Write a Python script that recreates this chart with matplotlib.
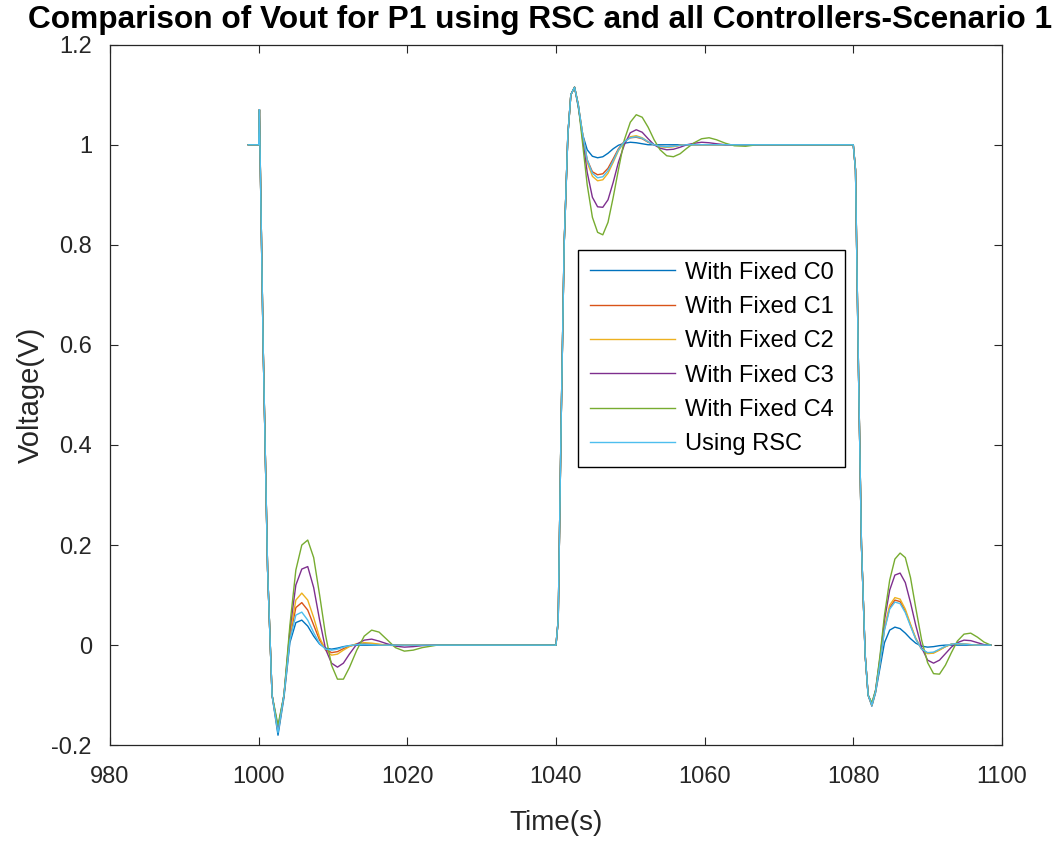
import matplotlib
matplotlib.use("Agg")
import matplotlib.pyplot as plt

# time grid (three segments: fall at 1000, rise at 1040, fall at 1080)
t_a = [998.6, 1000.0, 1000.1, 1000.6, 1001.2, 1001.8, 1002.6, 1003.4, 1004.2, 1005.0,
       1005.8, 1006.6, 1007.4, 1008.2, 1009.0, 1009.8, 1010.6, 1011.4, 1012.2, 1013.2,
       1014.2, 1015.2, 1016.2, 1017.2, 1018.4, 1019.6, 1020.8, 1022.0, 1024.0, 1026.0,
       1030.0, 1040.0]
t_b = [1040.3, 1040.7, 1041.1, 1041.6, 1042.0, 1042.5, 1043.0, 1043.6, 1044.2, 1044.9,
       1045.6, 1046.3, 1047.0, 1047.7, 1048.4, 1049.2, 1050.0, 1050.8, 1051.6, 1052.4,
       1053.2, 1054.0, 1054.9, 1055.8, 1056.7, 1057.6, 1058.6, 1059.6, 1060.6, 1061.6,
       1062.8, 1064.0, 1065.5, 1067.0, 1070.0, 1080.0]
t_c = [1080.3, 1080.7, 1081.1, 1081.6, 1082.0, 1082.5, 1083.0, 1083.6, 1084.2, 1084.9,
       1085.6, 1086.3, 1087.0, 1087.7, 1088.4, 1089.2, 1090.0, 1090.8, 1091.6, 1092.4,
       1093.2, 1094.0, 1094.9, 1095.8, 1096.7, 1097.6, 1098.5]

c0_a = [1.0, 1.0, 1.07, 0.6, 0.15, -0.1, -0.18, -0.105, 0.005, 0.045,
        0.05, 0.038, 0.018, 0.002, -0.006, -0.008, -0.006, -0.003, -0.001, 0.0,
        0.0, 0.0, 0.0, 0.0, 0.0, 0.0, 0.0, 0.0, 0.0, 0.0, 0.0, 0.0]
c0_b = [0.05, 0.45, 0.8, 1.02, 1.1, 1.115, 1.075, 1.02, 0.99, 0.977,
        0.974, 0.976, 0.983, 0.992, 0.999, 1.003, 1.005, 1.004, 1.002, 1.0,
        1.0, 1.0, 1.0, 1.0, 1.0, 1.0, 1.0, 1.0, 1.0, 1.0,
        1.0, 1.0, 1.0, 1.0, 1.0, 1.0]
c0_c = [0.95, 0.55, 0.2, -0.02, -0.1, -0.122, -0.095, -0.045, 0.005, 0.03,
        0.036, 0.033, 0.024, 0.013, 0.004, -0.002, -0.004, -0.003, -0.001, 0.0,
        0.0, 0.0, 0.0, 0.0, 0.0, 0.0, 0.0]

c1_a = [1.0, 1.0, 1.07, 0.6, 0.15, -0.1, -0.172, -0.1, 0.015, 0.075,
        0.085, 0.07, 0.04, 0.01, -0.008, -0.015, -0.013, -0.007, -0.002, 0.002,
        0.003, 0.002, 0.001, 0.0, 0.0, 0.0, 0.0, 0.0, 0.0, 0.0, 0.0, 0.0]
c1_b = [0.05, 0.45, 0.8, 1.02, 1.1, 1.115, 1.078, 1.02, 0.97, 0.946,
        0.94, 0.942, 0.953, 0.972, 0.992, 1.007, 1.014, 1.015, 1.012, 1.005,
        1.0, 0.997, 0.996, 0.997, 0.999, 1.0, 1.0, 1.0, 1.0, 1.0,
        1.0, 1.0, 1.0, 1.0, 1.0, 1.0]
c1_c = [0.95, 0.55, 0.2, -0.02, -0.1, -0.12, -0.093, -0.034, 0.032, 0.075,
        0.09, 0.087, 0.068, 0.04, 0.013, -0.008, -0.016, -0.015, -0.009, -0.003,
        0.002, 0.003, 0.002, 0.001, 0.0, 0.0, 0.0]

c2_a = [1.0, 1.0, 1.07, 0.6, 0.15, -0.1, -0.17, -0.1, 0.02, 0.09,
        0.104, 0.09, 0.055, 0.015, -0.01, -0.02, -0.018, -0.01, -0.003, 0.003,
        0.005, 0.004, 0.002, 0.0, -0.001, 0.0, 0.0, 0.0, 0.0, 0.0, 0.0, 0.0]
c2_b = [0.05, 0.45, 0.8, 1.02, 1.1, 1.115, 1.08, 1.02, 0.965, 0.937,
        0.928, 0.93, 0.943, 0.965, 0.988, 1.006, 1.016, 1.018, 1.014, 1.006,
        1.0, 0.996, 0.995, 0.996, 0.999, 1.0, 1.0, 1.0, 1.0, 1.0,
        1.0, 1.0, 1.0, 1.0, 1.0, 1.0]
c2_c = [0.95, 0.55, 0.2, -0.02, -0.1, -0.12, -0.092, -0.032, 0.035, 0.08,
        0.095, 0.092, 0.072, 0.042, 0.014, -0.008, -0.017, -0.016, -0.01, -0.003,
        0.002, 0.003, 0.002, 0.001, 0.0, 0.0, 0.0]

c3_a = [1.0, 1.0, 1.07, 0.6, 0.15, -0.1, -0.165, -0.1, 0.03, 0.12,
        0.152, 0.157, 0.115, 0.05, -0.008, -0.036, -0.044, -0.036, -0.018, 0.002,
        0.01, 0.012, 0.008, 0.003, -0.002, -0.004, -0.003, -0.001, 0.0, 0.0, 0.0, 0.0]
c3_b = [0.05, 0.45, 0.8, 1.02, 1.1, 1.115, 1.08, 1.01, 0.945, 0.895,
        0.876, 0.875, 0.89, 0.925, 0.965, 1.0, 1.024, 1.03, 1.025, 1.012,
        1.0, 0.993, 0.99, 0.991, 0.995, 1.0, 1.003, 1.005, 1.004, 1.002,
        1.0, 1.0, 1.0, 1.0, 1.0, 1.0]
c3_c = [0.95, 0.55, 0.2, -0.02, -0.1, -0.118, -0.09, -0.025, 0.05, 0.11,
        0.14, 0.144, 0.125, 0.085, 0.04, -0.005, -0.03, -0.036, -0.03, -0.017,
        -0.004, 0.005, 0.01, 0.009, 0.005, 0.001, 0.0]

c4_a = [1.0, 1.0, 1.07, 0.6, 0.15, -0.1, -0.16, -0.1, 0.04, 0.15,
        0.2, 0.21, 0.175, 0.1, 0.02, -0.04, -0.068, -0.068, -0.045, -0.01,
        0.018, 0.03, 0.026, 0.012, -0.005, -0.012, -0.01, -0.005, 0.0, 0.0, 0.0, 0.0]
c4_b = [0.05, 0.45, 0.8, 1.02, 1.1, 1.115, 1.08, 1.0, 0.92, 0.855,
        0.825, 0.82, 0.845, 0.895, 0.95, 1.01, 1.045, 1.06, 1.055, 1.035,
        1.01, 0.99, 0.978, 0.976, 0.982, 0.993, 1.004, 1.012, 1.014, 1.01,
        1.003, 0.998, 0.997, 1.0, 1.0, 1.0]
c4_c = [0.95, 0.55, 0.2, -0.02, -0.1, -0.115, -0.09, -0.02, 0.06, 0.13,
        0.172, 0.184, 0.175, 0.135, 0.075, 0.01, -0.035, -0.057, -0.058, -0.04,
        -0.015, 0.008, 0.022, 0.024, 0.016, 0.006, 0.0]

rsc_a = [1.0, 1.0, 1.07, 0.6, 0.15, -0.1, -0.175, -0.1, 0.01, 0.06,
         0.066, 0.05, 0.025, 0.003, -0.008, -0.01, -0.008, -0.004, -0.001, 0.001,
         0.002, 0.001, 0.0, 0.0, 0.0, 0.0, 0.0, 0.0, 0.0, 0.0, 0.0, 0.0]
rsc_b = [0.05, 0.45, 0.8, 1.02, 1.1, 1.115, 1.08, 1.02, 0.97, 0.943,
         0.934, 0.936, 0.948, 0.968, 0.99, 1.006, 1.014, 1.016, 1.013, 1.006,
         1.0, 0.997, 0.996, 0.997, 0.999, 1.0, 1.0, 1.0, 1.0, 1.0,
         1.0, 1.0, 1.0, 1.0, 1.0, 1.0]
rsc_c = [0.95, 0.55, 0.2, -0.02, -0.1, -0.12, -0.093, -0.035, 0.03, 0.072,
         0.086, 0.083, 0.065, 0.038, 0.012, -0.008, -0.015, -0.014, -0.008, -0.002,
         0.002, 0.003, 0.002, 0.001, 0.0, 0.0, 0.0]

labels = ["With Fixed C0", "With Fixed C1", "With Fixed C2",
          "With Fixed C3", "With Fixed C4", "Using RSC"]
colors = ["#0072BD", "#D95319", "#EDB120", "#7E2F8E", "#77AC30", "#4DBEEE"]

t = t_a + t_b + t_c
series = [c0_a + c0_b + c0_c, c1_a + c1_b + c1_c, c2_a + c2_b + c2_c,
          c3_a + c3_b + c3_c, c4_a + c4_b + c4_c, rsc_a + rsc_b + rsc_c]

plt.rcParams["font.family"] = ["Liberation Sans", "DejaVu Sans"]

fig = plt.figure(figsize=(10.58, 8.43), dpi=100)
ax = fig.add_axes([0.104, 0.116, 0.843, 0.831])

for y, lab, col in zip(series, labels, colors):
    ax.plot(t, y, color=col, lw=1.0, label=lab)

ax.set_xlim(980, 1100)
ax.set_ylim(-0.2, 1.2)
ax.set_xticks([980, 1000, 1020, 1040, 1060, 1080, 1100])
ax.set_yticks([-0.2, 0, 0.2, 0.4, 0.6, 0.8, 1, 1.2])
ax.set_yticklabels(["-0.2", "0", "0.2", "0.4", "0.6", "0.8", "1", "1.2"])
ax.tick_params(direction="in", top=True, right=True, length=6, width=0.8,
               labelsize=17, colors="#262626")
ax.tick_params(axis="x", pad=15)
ax.tick_params(axis="y", pad=13)
for s in ax.spines.values():
    s.set_color("#262626")
    s.set_linewidth(0.9)

ax.set_xlabel("Time(s)", fontsize=20, color="#262626", labelpad=16)
ax.set_ylabel("Voltage(V)", fontsize=21, color="#262626", labelpad=5)
fig.text(28 / 1058, 1 - 20 / 843,
         "Comparison of Vout for P1 using RSC and all Controllers-Scenario 1",
         fontsize=22.8, fontweight="bold", ha="left", va="center")

leg = ax.legend(loc="upper left", bbox_to_anchor=(0.525, 0.707), borderaxespad=0,
                fontsize=17, handlelength=3.6, labelspacing=0.52, fancybox=False,
                edgecolor="black", framealpha=1, borderpad=0.5, handletextpad=0.4)
leg.get_frame().set_linewidth(1.0)

fig.savefig("out.png", dpi=100)
